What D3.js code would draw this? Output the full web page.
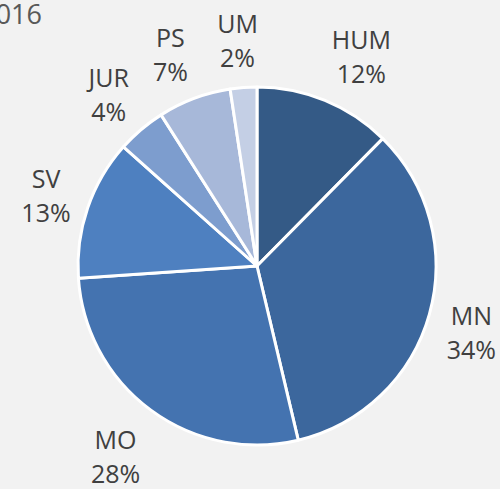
<!DOCTYPE html>
<html>
<head>
<meta charset="utf-8">
<script src="https://cdn.jsdelivr.net/npm/d3@7"></script>
<style>
  html, body { margin: 0; padding: 0; background: #f2f2f2; overflow: hidden; }
  text { font-family: "Open Sans", "Liberation Sans", sans-serif; }
</style>
</head>
<body>
<div id="root"></div>
<script>
// faculty shares, 2016
const categories = ["HUM", "MN", "MO", "SV", "JUR", "PS", "UM"];
const shares = [12.4, 33.9, 27.6, 12.7, 4.4, 6.6, 2.4];
const pctLabels = ["12%", "34%", "28%", "13%", "4%", "7%", "2%"];
const colors = ["#345a86", "#3c679d", "#4473b0", "#4e80c0", "#7d9dce", "#a7b8d9", "#c4cfe5"];

const width = 500;
const height = 489;
const cx = 257, cy = 266;
const r = 179;
const gap = 18;

let svg = d3.select("#root")
    .append("svg")
    .attr("width", width)
    .attr("height", height);

svg.append("rect")
    .attr("width", width)
    .attr("height", height)
    .attr("fill", "#f2f2f2");

// title, cut off at the left edge
svg.append("text")
    .attr("x", 42)
    .attr("y", 24)
    .attr("text-anchor", "end")
    .attr("fill", "#595959")
    .style("font-size", "27px")
    .text("2016");

const data = categories.map((c, i) => ({name: c, value: shares[i], label: pctLabels[i], color: colors[i]}));

const pie = d3.pie().sort(null).value(d => d.value);
const arc = d3.arc().innerRadius(0).outerRadius(r);

let g = svg.append("g").attr("transform", `translate(${cx},${cy})`);

const arcs = pie(data);

g.selectAll("path")
    .data(arcs)
    .enter()
    .append("path")
    .attr("d", arc)
    .attr("fill", d => d.data.color)
    .attr("stroke", "#ffffff")
    .attr("stroke-width", 3)
    .attr("stroke-linejoin", "round");

let labels = g.selectAll("g.lbl")
    .data(arcs)
    .enter()
    .append("g")
    .attr("class", "lbl");

labels.append("text")
    .attr("text-anchor", "middle")
    .attr("y", -8)
    .attr("fill", "#404040")
    .style("font-size", "25px")
    .text(d => d.data.name);

labels.append("text")
    .attr("text-anchor", "middle")
    .attr("y", 26)
    .attr("fill", "#404040")
    .style("font-size", "25px")
    .text(d => d.data.label);

// label box sits just outside the pie, its near side touching the slice's middle ray
const clamp = v => Math.max(-1, Math.min(1, v));
labels.attr("transform", function(d) {
    let box = this.getBBox();
    let a = (d.startAngle + d.endAngle) / 2;
    let sx = Math.sin(a), sy = -Math.cos(a);
    let px = sx * (r + gap), py = sy * (r + gap);
    let ox = clamp(sx * 3) * box.width / 2;
    let oy = sy * box.height / 2;
    let bx = box.x + box.width / 2, by = box.y + box.height / 2;
    // bbox includes descent space, so nudge down to centre the glyphs
    return `translate(${px + ox - bx},${py + oy - by + 4})`;
});
</script>
</body>
</html>
